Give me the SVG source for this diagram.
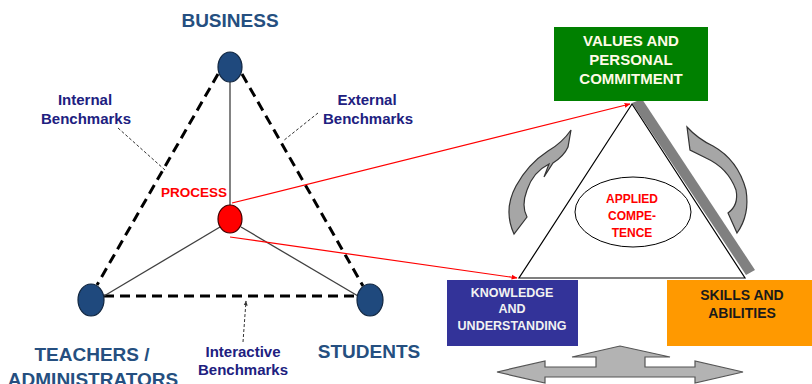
<svg xmlns="http://www.w3.org/2000/svg" width="812" height="384" viewBox="0 0 812 384">
  <style>
    .head { font-family: "Liberation Sans", Arial, sans-serif; font-weight: bold; font-size: 19px; fill: #254f80; text-anchor: middle; }
    .bench { font-family: "Liberation Sans", Arial, sans-serif; font-weight: bold; font-size: 15px; fill: #202080; text-anchor: middle; }
    .box { font-family: "Liberation Sans", Arial, sans-serif; font-weight: bold; text-anchor: middle; }
    .node { fill: #1f497d; stroke: #10253f; stroke-width: 1.2; }
    .dash { stroke: #000; stroke-width: 3; stroke-dasharray: 10 6; fill: none; }
    .solid { stroke: #404040; stroke-width: 1.3; fill: none; }
    .lead { stroke: #333; stroke-width: 1; stroke-dasharray: 3 2; fill: none; }
    .red { stroke: #ff0000; stroke-width: 1.2; fill: none; }
    .curl { fill: #a6a6a6; stroke: #333; stroke-width: 1.2; }
  </style>
  <defs>
    <marker id="redhead" viewBox="0 0 10 10" refX="9" refY="5" markerWidth="6" markerHeight="6" markerUnits="userSpaceOnUse" orient="auto">
      <path d="M0,1 L10,5 L0,9 Z" fill="#ff0000"/>
    </marker>
    <marker id="tinyhead" viewBox="0 0 10 10" refX="9" refY="5" markerWidth="5" markerHeight="5" markerUnits="userSpaceOnUse" orient="auto">
      <path d="M0,1 L10,5 L0,9 Z" fill="#333"/>
    </marker>
  </defs>

  <rect width="812" height="384" fill="#ffffff"/>

  <!-- stakeholder triangle connectors -->
  <g id="connectors">
    <line class="dash" x1="218" y1="74" x2="97" y2="285"/>
    <line class="dash" x1="242" y1="74" x2="363" y2="286"/>
    <line class="dash" x1="104" y1="296" x2="357" y2="296"/>
    <line class="solid" x1="230" y1="82" x2="230" y2="205"/>
    <line class="solid" x1="220" y1="227" x2="104" y2="296"/>
    <line class="solid" x1="241" y1="227" x2="358" y2="296"/>
    <line class="lead" x1="118" y1="128" x2="165" y2="170"/>
    <line class="lead" x1="318" y1="113" x2="283" y2="141"/>
    <line class="lead" x1="243" y1="342" x2="246" y2="301" marker-end="url(#tinyhead)"/>
    <line class="red" x1="232" y1="203" x2="630" y2="104" marker-end="url(#redhead)"/>
    <line class="red" x1="230" y1="237" x2="517" y2="278" marker-end="url(#redhead)"/>
  </g>

  <g id="business">
    <ellipse class="node" cx="230" cy="67" rx="12" ry="15"/>
    <text class="head" x="230" y="27">BUSINESS</text>
  </g>
  <g id="process">
    <ellipse cx="230" cy="219" rx="12" ry="14" fill="#ff0000" stroke="#400000" stroke-width="1.2"/>
    <text class="box" x="194" y="197" font-size="13.5" fill="#ff0000">PROCESS</text>
  </g>
  <g id="teachers">
    <ellipse class="node" cx="91" cy="300" rx="13" ry="16"/>
    <text class="head" x="92" y="361">TEACHERS /</text>
    <text class="head" x="93" y="386">ADMINISTRATORS</text>
  </g>
  <g id="students">
    <ellipse class="node" cx="370" cy="300" rx="13" ry="16"/>
    <text class="head" x="369" y="358">STUDENTS</text>
  </g>
  <g id="internal-benchmarks">
    <text class="bench" x="85" y="105">Internal</text>
    <text class="bench" x="86" y="124">Benchmarks</text>
  </g>
  <g id="external-benchmarks">
    <text class="bench" x="367" y="105">External</text>
    <text class="bench" x="368" y="124">Benchmarks</text>
  </g>
  <g id="interactive-benchmarks">
    <text class="bench" x="243" y="357">Interactive</text>
    <text class="bench" x="243" y="375">Benchmarks</text>
  </g>

  <!-- competence triangle -->
  <g id="competence-triangle">
    <polygon points="632,103 642,99 755,270 746,275" fill="#808080"/>
    <polygon points="632,104 519,278 745,278" fill="#ffffff" stroke="#000" stroke-width="1.2"/>
  </g>
  <g id="cycle-arrows">
    <path class="curl" d="M571,130 L568,147 Q564,156 553,163 L544,177 L549,164 Q533,172 527,190 Q521,206 527,217 L514,234 Q503,210 516,186 Q528,164 548,151 Q562,143 571,130 Z"/>
    <path class="curl" d="M687,127 L690,150 L706,158 Q728,168 736,190 Q739,205 728,213 L737,233 Q750,215 746,190 Q738,160 713,146 Q698,139 687,127 Z"/>
  </g>
  <g id="applied-competence">
    <ellipse cx="633" cy="212" rx="58" ry="35" fill="#ffffff" stroke="#000" stroke-width="1"/>
    <text class="box" x="632" y="203" font-size="12" fill="#ff0000">APPLIED</text>
    <text class="box" x="632" y="220" font-size="12" fill="#ff0000">COMPE-</text>
    <text class="box" x="632" y="237" font-size="12" fill="#ff0000">TENCE</text>
  </g>
  <g id="values">
    <rect x="554" y="27" width="154" height="74" fill="#008000"/>
    <text class="box" x="631" y="46" font-size="15" fill="#fffbe6">VALUES AND</text>
    <text class="box" x="631" y="65" font-size="15" fill="#fffbe6">PERSONAL</text>
    <text class="box" x="631" y="84" font-size="15" fill="#fffbe6">COMMITMENT</text>
  </g>
  <g id="knowledge">
    <rect x="447" y="280" width="131" height="66" fill="#333399"/>
    <text class="box" x="512" y="297" font-size="12.5" fill="#f2f2f2">KNOWLEDGE</text>
    <text class="box" x="512" y="313" font-size="12.5" fill="#f2f2f2">AND</text>
    <text class="box" x="512" y="330" font-size="12.5" fill="#f2f2f2">UNDERSTANDING</text>
  </g>
  <g id="skills">
    <rect x="667" y="280" width="145" height="66" fill="#ff9900"/>
    <text class="box" x="742" y="300" font-size="14" fill="#1a1a1a">SKILLS AND</text>
    <text class="box" x="742" y="318" font-size="14" fill="#1a1a1a">ABILITIES</text>
  </g>
  <g id="interplay-arrow">
    <polygon points="497,372 545,361 545,367 596,367 596,357 572,357 620,346 670,357 645,357 645,367 695,367 695,361 743,372 695,383 695,377 545,377 545,383" fill="#b3b3b3" stroke="#555" stroke-width="1.2" stroke-linejoin="miter"/>
  </g>
</svg>
